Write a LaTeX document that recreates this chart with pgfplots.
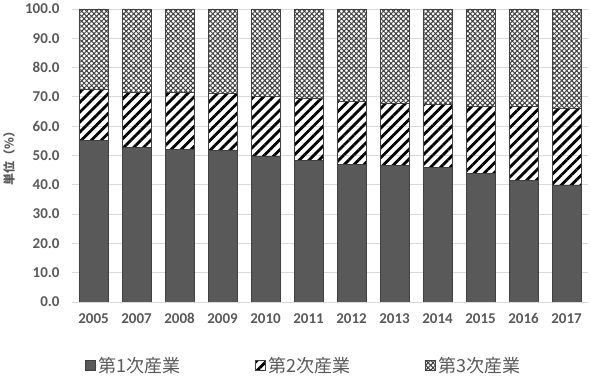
\documentclass[border=0pt]{standalone}
\usepackage{pgfplots}
\pgfplotsset{compat=1.18}
\usepackage{pgfplotstable}
\usetikzlibrary{patterns,patterns.meta}
\usepackage{fontspec}
\setmainfont{Carlito}
\newfontfamily\cjk{Noto Sans CJK JP}
\definecolor{txtgray}{HTML}{595959}
\definecolor{bardark}{HTML}{595959}
\definecolor{gridgray}{HTML}{D9D9D9}

\pgfplotstableread{
x year s1 s2 s3
0 2005 55.0 17.7 27.3
1 2007 52.9 18.8 28.3
2 2008 52.1 19.6 28.3
3 2009 51.6 19.6 28.8
4 2010 49.6 20.7 29.7
5 2011 48.2 21.3 30.5
6 2012 47.0 21.3 31.7
7 2013 46.5 21.4 32.1
8 2014 46.0 21.6 32.4
9 2015 43.9 22.8 33.3
10 2016 41.6 25.1 33.3
11 2017 39.8 26.2 34.0
}\datatable

\begin{document}
\begin{tikzpicture}
\useasboundingbox (0,0) rectangle (591bp,390bp);
\begin{axis}[
  at={(72bp,88bp)}, anchor=south west,
  scale only axis, width=516bp, height=293bp,
  ybar stacked, bar width=29bp,
  xmin=-0.5, xmax=11.5, ymin=0, ymax=100,
  xtick=data,
  xticklabels={2005,2007,2008,2009,2010,2011,2012,2013,2014,2015,2016,2017},
  ytick={0,10,...,100},
  /pgf/number format/assume math mode=true,
  yticklabel={\pgfmathprintnumber[fixed,fixed zerofill,precision=1]{\tick}},
  ymajorgrids, grid style={draw=gridgray, line width=0.8bp},
  axis line style={draw=none},
  major tick length=0pt,
  tick label style={font=\fontsize{15bp}{18bp}\selectfont\bfseries, text=txtgray},
  xticklabel style={yshift=-8bp},
  yticklabel style={xshift=-9bp},
  ylabel={\cjk\bfseries 単位（\%）},
  ylabel style={at={(axis description cs:-0.122,0.5)}, anchor=center,
     font=\fontsize{12bp}{14bp}\selectfont, text=txtgray},
  legend columns=3,
  legend style={at={(axis description cs:0.025,-0.218)}, anchor=west,
     draw=none, fill=none, inner sep=0pt,
     font=\cjk\fontsize{18bp}{21bp}\selectfont, text=txtgray,
     /tikz/every even column/.append style={column sep=74bp},
     nodes={inner sep=0pt, outer sep=0pt}},
  legend image code/.code={\draw[#1] (0bp,-5bp) rectangle (10bp,5bp);},
]
\addplot[fill=bardark, draw=black!75, line width=0.8bp] table[x=x,y=s1]{\datatable};
\addplot[fill=white, draw=black!75, line width=0.8bp,
   pattern={Lines[angle=45,distance=7bp,line width=2.8bp]}, pattern color=black]
   table[x=x,y=s2]{\datatable};
\addplot[fill=white, draw=black!75, line width=0.8bp,
   pattern={Hatch[angle=45,distance=3.5bp,line width=1bp]}, pattern color=black!75]
   table[x=x,y=s3]{\datatable};
\legend{\,第1次産業,\,第2次産業,\,第3次産業}
\end{axis}
\end{tikzpicture}
\end{document}
